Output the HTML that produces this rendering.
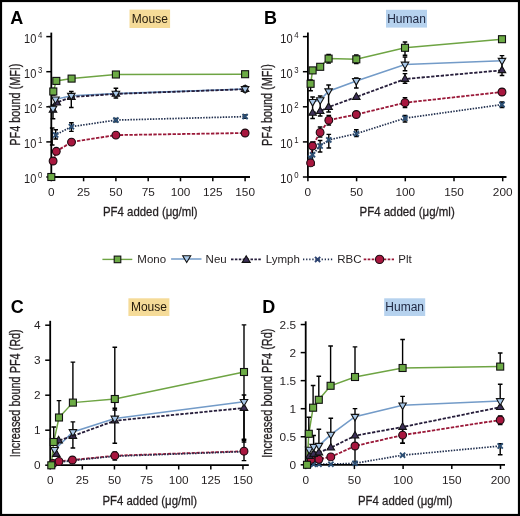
<!DOCTYPE html><html><head><meta charset="utf-8"><style>html,body{margin:0;padding:0;background:#fff;}svg{display:block;will-change:transform;}text{font-family:"Liberation Sans", sans-serif;}</style></head><body>
<svg width="520" height="516" viewBox="0 0 520 516">
<rect x="0" y="0" width="520" height="516" fill="#fff"/>
<text transform="translate(10.20,24.40)" font-size="18" text-anchor="start" font-weight="bold" fill="#000">A</text>
<rect x="129.50" y="9.60" width="40.60" height="18.40" fill="#f5db98"/>
<text transform="translate(149.80,23.00)" font-size="12" text-anchor="middle" font-weight="normal" fill="#23190b">Mouse</text>
<text transform="translate(36.30,182.90) scale(0.880,1)" font-size="12.6" text-anchor="end" font-weight="normal" fill="#231f20">10</text>
<text transform="translate(37.90,178.40) scale(0.950,1)" font-size="8.2" text-anchor="start" font-weight="normal" fill="#231f20">0</text>
<text transform="translate(36.30,147.80) scale(0.880,1)" font-size="12.6" text-anchor="end" font-weight="normal" fill="#231f20">10</text>
<text transform="translate(37.90,143.30) scale(0.950,1)" font-size="8.2" text-anchor="start" font-weight="normal" fill="#231f20">1</text>
<text transform="translate(36.30,112.70) scale(0.880,1)" font-size="12.6" text-anchor="end" font-weight="normal" fill="#231f20">10</text>
<text transform="translate(37.90,108.20) scale(0.950,1)" font-size="8.2" text-anchor="start" font-weight="normal" fill="#231f20">2</text>
<text transform="translate(36.30,77.60) scale(0.880,1)" font-size="12.6" text-anchor="end" font-weight="normal" fill="#231f20">10</text>
<text transform="translate(37.90,73.10) scale(0.950,1)" font-size="8.2" text-anchor="start" font-weight="normal" fill="#231f20">3</text>
<text transform="translate(36.30,42.50) scale(0.880,1)" font-size="12.6" text-anchor="end" font-weight="normal" fill="#231f20">10</text>
<text transform="translate(37.90,38.00) scale(0.950,1)" font-size="8.2" text-anchor="start" font-weight="normal" fill="#231f20">4</text>
<text transform="translate(51.30,195.80)" font-size="11.8" text-anchor="middle" font-weight="normal" fill="#231f20">0</text>
<text transform="translate(83.60,195.80)" font-size="11.8" text-anchor="middle" font-weight="normal" fill="#231f20">25</text>
<text transform="translate(115.90,195.80)" font-size="11.8" text-anchor="middle" font-weight="normal" fill="#231f20">50</text>
<text transform="translate(148.20,195.80)" font-size="11.8" text-anchor="middle" font-weight="normal" fill="#231f20">75</text>
<text transform="translate(180.50,195.80)" font-size="11.8" text-anchor="middle" font-weight="normal" fill="#231f20">100</text>
<text transform="translate(212.80,195.80)" font-size="11.8" text-anchor="middle" font-weight="normal" fill="#231f20">125</text>
<text transform="translate(245.10,195.80)" font-size="11.8" text-anchor="middle" font-weight="normal" fill="#231f20">150</text>
<text transform="translate(150.30,216.40)" font-size="13.6" text-anchor="middle" font-weight="normal" fill="#231f20" textLength="94.60" lengthAdjust="spacingAndGlyphs" stroke="#231f20" stroke-width="0.3">PF4 added (μg/ml)</text>
<text transform="translate(19.60,104.60) rotate(-90)" font-size="14.2" text-anchor="middle" font-weight="normal" fill="#231f20" textLength="82.10" lengthAdjust="spacingAndGlyphs" stroke="#231f20" stroke-width="0.3">PF4 bound (MFI)</text>
<path d="M53.30,91.50 L56.30,80.90 L71.60,78.60 L115.90,74.50 L245.10,74.20" fill="none" stroke="#6ea443" stroke-width="1.5" stroke-linecap="butt"/>
<path d="M53.00,108.60 L55.50,99.30 L71.30,95.70 L115.90,93.60 L245.10,89.00" fill="none" stroke="#739bc8" stroke-width="1.6" stroke-linecap="butt"/>
<path d="M53.00,109.80 L56.80,102.60 L71.40,97.00 L115.90,93.90 L245.10,89.20" fill="none" stroke="#261d3a" stroke-width="1.8" stroke-dasharray="3.3,1.5" stroke-linecap="butt"/>
<path d="M52.20,133.00 L55.70,134.90 L71.40,126.70 L115.90,120.10 L245.10,116.60" fill="none" stroke="#22304f" stroke-width="1.7" stroke-dasharray="1.5,1.3" stroke-linecap="butt"/>
<path d="M53.10,161.00 L56.30,151.30 L71.50,142.10 L115.90,135.10 L245.10,133.00" fill="none" stroke="#9a1838" stroke-width="1.8" stroke-dasharray="3.4,1.4" stroke-linecap="butt"/>
<path d="M51.30,32.60 V177.90" stroke="#000" stroke-width="1.8"/>
<path d="M50.40,177.00 H250.00" stroke="#000" stroke-width="1.8"/>
<path d="M46.30,177.00 H51.30" stroke="#000" stroke-width="1.5"/>
<path d="M46.30,141.90 H51.30" stroke="#000" stroke-width="1.5"/>
<path d="M46.30,106.80 H51.30" stroke="#000" stroke-width="1.5"/>
<path d="M46.30,71.70 H51.30" stroke="#000" stroke-width="1.5"/>
<path d="M46.30,36.60 H51.30" stroke="#000" stroke-width="1.5"/>
<path d="M51.30,177.00 V181.30" stroke="#000" stroke-width="1.5"/>
<path d="M83.60,177.00 V181.30" stroke="#000" stroke-width="1.5"/>
<path d="M115.90,177.00 V181.30" stroke="#000" stroke-width="1.5"/>
<path d="M148.20,177.00 V181.30" stroke="#000" stroke-width="1.5"/>
<path d="M180.50,177.00 V181.30" stroke="#000" stroke-width="1.5"/>
<path d="M212.80,177.00 V181.30" stroke="#000" stroke-width="1.5"/>
<path d="M245.10,177.00 V181.30" stroke="#000" stroke-width="1.5"/>
<path d="M53.00,105.00 V118.70 M50.70,105.00 h4.60 M50.70,118.70 h4.60" stroke="#000" stroke-width="1.4" fill="none"/>
<path d="M71.30,91.50 V107.50 M69.00,91.50 h4.60 M69.00,107.50 h4.60" stroke="#000" stroke-width="1.4" fill="none"/>
<path d="M115.90,88.20 V98.00 M113.60,88.20 h4.60 M113.60,98.00 h4.60" stroke="#000" stroke-width="1.4" fill="none"/>
<path d="M245.10,86.00 V92.00 M242.80,86.00 h4.60 M242.80,92.00 h4.60" stroke="#000" stroke-width="1.4" fill="none"/>
<path d="M55.70,129.70 V139.00 M53.40,129.70 h4.60 M53.40,139.00 h4.60" stroke="#000" stroke-width="1.4" fill="none"/>
<path d="M71.40,122.70 V131.40 M69.10,122.70 h4.60 M69.10,131.40 h4.60" stroke="#000" stroke-width="1.4" fill="none"/>
<path d="M115.90,118.50 V121.80 M113.60,118.50 h4.60 M113.60,121.80 h4.60" stroke="#000" stroke-width="1.4" fill="none"/>
<path d="M245.10,115.00 V118.30 M242.80,115.00 h4.60 M242.80,118.30 h4.60" stroke="#000" stroke-width="1.4" fill="none"/>
<path d="M53.30,88.50 V95.00 M51.00,88.50 h4.60 M51.00,95.00 h4.60" stroke="#000" stroke-width="1.4" fill="none"/>
<path d="M52.20,128.00 V145.00 M49.90,128.00 h4.60 M49.90,145.00 h4.60" stroke="#000" stroke-width="1.4" fill="none"/>
<path d="M53.80,133.00 L57.60,136.80 M53.80,136.80 L57.60,133.00" stroke="#2c4f74" stroke-width="1.9" stroke-linecap="square"/>
<path d="M69.50,124.80 L73.30,128.60 M69.50,128.60 L73.30,124.80" stroke="#2c4f74" stroke-width="1.9" stroke-linecap="square"/>
<path d="M114.00,118.20 L117.80,122.00 M114.00,122.00 L117.80,118.20" stroke="#2c4f74" stroke-width="1.9" stroke-linecap="square"/>
<path d="M243.20,114.70 L247.00,118.50 M243.20,118.50 L247.00,114.70" stroke="#2c4f74" stroke-width="1.9" stroke-linecap="square"/>
<circle cx="53.10" cy="161.00" r="3.90" fill="#a8173f" stroke="#1a0a10" stroke-width="1.1"/>
<circle cx="56.30" cy="151.30" r="3.90" fill="#a8173f" stroke="#1a0a10" stroke-width="1.1"/>
<circle cx="71.50" cy="142.10" r="3.90" fill="#a8173f" stroke="#1a0a10" stroke-width="1.1"/>
<circle cx="115.90" cy="135.10" r="3.90" fill="#a8173f" stroke="#1a0a10" stroke-width="1.1"/>
<circle cx="245.10" cy="133.00" r="3.90" fill="#a8173f" stroke="#1a0a10" stroke-width="1.1"/>
<path d="M49.25,112.14 L56.75,112.14 L53.00,105.64 Z" fill="#3e3058" stroke="#111" stroke-width="1.1" stroke-linejoin="miter"/>
<path d="M53.05,104.94 L60.55,104.94 L56.80,98.44 Z" fill="#3e3058" stroke="#111" stroke-width="1.1" stroke-linejoin="miter"/>
<path d="M67.65,99.34 L75.15,99.34 L71.40,92.84 Z" fill="#3e3058" stroke="#111" stroke-width="1.1" stroke-linejoin="miter"/>
<path d="M112.15,96.24 L119.65,96.24 L115.90,89.74 Z" fill="#3e3058" stroke="#111" stroke-width="1.1" stroke-linejoin="miter"/>
<path d="M241.35,91.54 L248.85,91.54 L245.10,85.04 Z" fill="#3e3058" stroke="#111" stroke-width="1.1" stroke-linejoin="miter"/>
<path d="M49.25,106.26 L56.75,106.26 L53.00,112.76 Z" fill="#a9c8e8" stroke="#111" stroke-width="1.1" stroke-linejoin="miter"/>
<path d="M51.75,96.96 L59.25,96.96 L55.50,103.46 Z" fill="#a9c8e8" stroke="#111" stroke-width="1.1" stroke-linejoin="miter"/>
<path d="M67.55,93.36 L75.05,93.36 L71.30,99.86 Z" fill="#a9c8e8" stroke="#111" stroke-width="1.1" stroke-linejoin="miter"/>
<path d="M112.15,91.26 L119.65,91.26 L115.90,97.76 Z" fill="#a9c8e8" stroke="#111" stroke-width="1.1" stroke-linejoin="miter"/>
<path d="M241.35,86.66 L248.85,86.66 L245.10,93.16 Z" fill="#a9c8e8" stroke="#111" stroke-width="1.1" stroke-linejoin="miter"/>
<rect x="47.80" y="173.50" width="7.00" height="7.00" fill="#6cab45" stroke="#111" stroke-width="1.1"/>
<rect x="49.80" y="88.00" width="7.00" height="7.00" fill="#6cab45" stroke="#111" stroke-width="1.1"/>
<rect x="52.80" y="77.40" width="7.00" height="7.00" fill="#6cab45" stroke="#111" stroke-width="1.1"/>
<rect x="68.10" y="75.10" width="7.00" height="7.00" fill="#6cab45" stroke="#111" stroke-width="1.1"/>
<rect x="112.40" y="71.00" width="7.00" height="7.00" fill="#6cab45" stroke="#111" stroke-width="1.1"/>
<rect x="241.60" y="70.70" width="7.00" height="7.00" fill="#6cab45" stroke="#111" stroke-width="1.1"/>
<text transform="translate(264.00,24.40)" font-size="18" text-anchor="start" font-weight="bold" fill="#000">B</text>
<rect x="386.00" y="9.80" width="41.00" height="17.80" fill="#b6d2ee"/>
<text transform="translate(406.50,22.90)" font-size="12" text-anchor="middle" font-weight="normal" fill="#1e2640">Human</text>
<text transform="translate(292.60,182.90) scale(0.880,1)" font-size="12.6" text-anchor="end" font-weight="normal" fill="#231f20">10</text>
<text transform="translate(294.30,178.40) scale(0.950,1)" font-size="8.2" text-anchor="start" font-weight="normal" fill="#231f20">0</text>
<text transform="translate(292.60,147.80) scale(0.880,1)" font-size="12.6" text-anchor="end" font-weight="normal" fill="#231f20">10</text>
<text transform="translate(294.30,143.30) scale(0.950,1)" font-size="8.2" text-anchor="start" font-weight="normal" fill="#231f20">1</text>
<text transform="translate(292.60,112.70) scale(0.880,1)" font-size="12.6" text-anchor="end" font-weight="normal" fill="#231f20">10</text>
<text transform="translate(294.30,108.20) scale(0.950,1)" font-size="8.2" text-anchor="start" font-weight="normal" fill="#231f20">2</text>
<text transform="translate(292.60,77.60) scale(0.880,1)" font-size="12.6" text-anchor="end" font-weight="normal" fill="#231f20">10</text>
<text transform="translate(294.30,73.10) scale(0.950,1)" font-size="8.2" text-anchor="start" font-weight="normal" fill="#231f20">3</text>
<text transform="translate(292.60,42.50) scale(0.880,1)" font-size="12.6" text-anchor="end" font-weight="normal" fill="#231f20">10</text>
<text transform="translate(294.30,38.00) scale(0.950,1)" font-size="8.2" text-anchor="start" font-weight="normal" fill="#231f20">4</text>
<text transform="translate(307.90,195.80)" font-size="11.8" text-anchor="middle" font-weight="normal" fill="#231f20">0</text>
<text transform="translate(356.60,195.80)" font-size="11.8" text-anchor="middle" font-weight="normal" fill="#231f20">50</text>
<text transform="translate(405.30,195.80)" font-size="11.8" text-anchor="middle" font-weight="normal" fill="#231f20">100</text>
<text transform="translate(454.00,195.80)" font-size="11.8" text-anchor="middle" font-weight="normal" fill="#231f20">150</text>
<text transform="translate(502.70,195.80)" font-size="11.8" text-anchor="middle" font-weight="normal" fill="#231f20">200</text>
<text transform="translate(407.10,216.40)" font-size="13.6" text-anchor="middle" font-weight="normal" fill="#231f20" textLength="95.20" lengthAdjust="spacingAndGlyphs" stroke="#231f20" stroke-width="0.3">PF4 added (μg/ml)</text>
<text transform="translate(271.60,105.00) rotate(-90)" font-size="14.2" text-anchor="middle" font-weight="normal" fill="#231f20" textLength="81.90" lengthAdjust="spacingAndGlyphs" stroke="#231f20" stroke-width="0.3">PF4 bound (MFI)</text>
<path d="M310.60,83.80 L312.60,70.40 L320.20,66.80 L328.60,58.60 L356.30,59.30 L405.00,47.80 L502.00,39.20" fill="none" stroke="#6ea443" stroke-width="1.5" stroke-linecap="butt"/>
<path d="M312.60,101.90 L320.20,100.10 L328.60,91.20 L356.30,80.90 L405.00,64.50 L502.00,60.70" fill="none" stroke="#739bc8" stroke-width="1.6" stroke-linecap="butt"/>
<path d="M312.60,112.90 L320.20,111.20 L328.60,107.10 L356.30,97.00 L405.00,79.00 L502.00,70.30" fill="none" stroke="#261d3a" stroke-width="1.8" stroke-dasharray="3.3,1.5" stroke-linecap="butt"/>
<path d="M310.60,158.00 L312.50,154.80 L320.10,146.00 L328.80,139.90 L356.30,133.70 L405.00,118.20 L502.00,104.60" fill="none" stroke="#22304f" stroke-width="1.7" stroke-dasharray="1.5,1.3" stroke-linecap="butt"/>
<path d="M310.60,162.90 L312.50,146.00 L320.10,132.40 L328.80,120.20 L356.30,114.50 L405.00,102.70 L502.00,92.00" fill="none" stroke="#9a1838" stroke-width="1.8" stroke-dasharray="3.4,1.4" stroke-linecap="butt"/>
<path d="M307.90,32.60 V177.90" stroke="#000" stroke-width="1.8"/>
<path d="M307.00,177.00 H506.50" stroke="#000" stroke-width="1.8"/>
<path d="M302.90,177.00 H307.90" stroke="#000" stroke-width="1.5"/>
<path d="M302.90,141.90 H307.90" stroke="#000" stroke-width="1.5"/>
<path d="M302.90,106.80 H307.90" stroke="#000" stroke-width="1.5"/>
<path d="M302.90,71.70 H307.90" stroke="#000" stroke-width="1.5"/>
<path d="M302.90,36.60 H307.90" stroke="#000" stroke-width="1.5"/>
<path d="M307.90,177.00 V181.30" stroke="#000" stroke-width="1.5"/>
<path d="M356.60,177.00 V181.30" stroke="#000" stroke-width="1.5"/>
<path d="M405.30,177.00 V181.30" stroke="#000" stroke-width="1.5"/>
<path d="M454.00,177.00 V181.30" stroke="#000" stroke-width="1.5"/>
<path d="M502.70,177.00 V181.30" stroke="#000" stroke-width="1.5"/>
<path d="M310.60,80.00 V90.80 M308.30,80.00 h4.60 M308.30,90.80 h4.60" stroke="#000" stroke-width="1.4" fill="none"/>
<path d="M328.60,54.50 V63.00 M326.30,54.50 h4.60 M326.30,63.00 h4.60" stroke="#000" stroke-width="1.4" fill="none"/>
<path d="M356.30,55.00 V63.50 M354.00,55.00 h4.60 M354.00,63.50 h4.60" stroke="#000" stroke-width="1.4" fill="none"/>
<path d="M405.00,42.00 V55.20 M402.70,42.00 h4.60 M402.70,55.20 h4.60" stroke="#000" stroke-width="1.4" fill="none"/>
<path d="M312.60,97.00 V118.50 M310.30,97.00 h4.60 M310.30,118.50 h4.60" stroke="#000" stroke-width="1.4" fill="none"/>
<path d="M320.20,96.00 V116.00 M317.90,96.00 h4.60 M317.90,116.00 h4.60" stroke="#000" stroke-width="1.4" fill="none"/>
<path d="M328.60,85.00 V112.00 M326.30,85.00 h4.60 M326.30,112.00 h4.60" stroke="#000" stroke-width="1.4" fill="none"/>
<path d="M356.30,78.00 V88.00 M354.00,78.00 h4.60 M354.00,88.00 h4.60" stroke="#000" stroke-width="1.4" fill="none"/>
<path d="M405.00,57.00 V70.70 M402.70,57.00 h4.60 M402.70,70.70 h4.60" stroke="#000" stroke-width="1.4" fill="none"/>
<path d="M502.00,55.60 V75.50 M499.70,55.60 h4.60 M499.70,75.50 h4.60" stroke="#000" stroke-width="1.4" fill="none"/>
<path d="M405.00,73.60 V83.30 M402.70,73.60 h4.60 M402.70,83.30 h4.60" stroke="#000" stroke-width="1.4" fill="none"/>
<path d="M320.10,127.00 V137.00 M317.80,127.00 h4.60 M317.80,137.00 h4.60" stroke="#000" stroke-width="1.4" fill="none"/>
<path d="M328.80,115.40 V125.00 M326.50,115.40 h4.60 M326.50,125.00 h4.60" stroke="#000" stroke-width="1.4" fill="none"/>
<path d="M405.00,97.80 V107.50 M402.70,97.80 h4.60 M402.70,107.50 h4.60" stroke="#000" stroke-width="1.4" fill="none"/>
<path d="M502.00,89.00 V95.00 M499.70,89.00 h4.60 M499.70,95.00 h4.60" stroke="#000" stroke-width="1.4" fill="none"/>
<path d="M320.10,140.50 V152.00 M317.80,140.50 h4.60 M317.80,152.00 h4.60" stroke="#000" stroke-width="1.4" fill="none"/>
<path d="M328.80,134.40 V148.00 M326.50,134.40 h4.60 M326.50,148.00 h4.60" stroke="#000" stroke-width="1.4" fill="none"/>
<path d="M356.30,129.70 V136.50 M354.00,129.70 h4.60 M354.00,136.50 h4.60" stroke="#000" stroke-width="1.4" fill="none"/>
<path d="M405.00,115.50 V122.00 M402.70,115.50 h4.60 M402.70,122.00 h4.60" stroke="#000" stroke-width="1.4" fill="none"/>
<path d="M502.00,102.00 V107.50 M499.70,102.00 h4.60 M499.70,107.50 h4.60" stroke="#000" stroke-width="1.4" fill="none"/>
<path d="M312.50,142.00 V165.00 M310.20,142.00 h4.60 M310.20,165.00 h4.60" stroke="#000" stroke-width="1.4" fill="none"/>
<path d="M308.70,156.10 L312.50,159.90 M308.70,159.90 L312.50,156.10" stroke="#2c4f74" stroke-width="1.9" stroke-linecap="square"/>
<path d="M310.60,152.90 L314.40,156.70 M310.60,156.70 L314.40,152.90" stroke="#2c4f74" stroke-width="1.9" stroke-linecap="square"/>
<path d="M318.20,144.10 L322.00,147.90 M318.20,147.90 L322.00,144.10" stroke="#2c4f74" stroke-width="1.9" stroke-linecap="square"/>
<path d="M326.90,138.00 L330.70,141.80 M326.90,141.80 L330.70,138.00" stroke="#2c4f74" stroke-width="1.9" stroke-linecap="square"/>
<path d="M354.40,131.80 L358.20,135.60 M354.40,135.60 L358.20,131.80" stroke="#2c4f74" stroke-width="1.9" stroke-linecap="square"/>
<path d="M403.10,116.30 L406.90,120.10 M403.10,120.10 L406.90,116.30" stroke="#2c4f74" stroke-width="1.9" stroke-linecap="square"/>
<path d="M500.10,102.70 L503.90,106.50 M500.10,106.50 L503.90,102.70" stroke="#2c4f74" stroke-width="1.9" stroke-linecap="square"/>
<circle cx="310.60" cy="162.90" r="3.90" fill="#a8173f" stroke="#1a0a10" stroke-width="1.1"/>
<circle cx="312.50" cy="146.00" r="3.90" fill="#a8173f" stroke="#1a0a10" stroke-width="1.1"/>
<circle cx="320.10" cy="132.40" r="3.90" fill="#a8173f" stroke="#1a0a10" stroke-width="1.1"/>
<circle cx="328.80" cy="120.20" r="3.90" fill="#a8173f" stroke="#1a0a10" stroke-width="1.1"/>
<circle cx="356.30" cy="114.50" r="3.90" fill="#a8173f" stroke="#1a0a10" stroke-width="1.1"/>
<circle cx="405.00" cy="102.70" r="3.90" fill="#a8173f" stroke="#1a0a10" stroke-width="1.1"/>
<circle cx="502.00" cy="92.00" r="3.90" fill="#a8173f" stroke="#1a0a10" stroke-width="1.1"/>
<path d="M308.85,115.24 L316.35,115.24 L312.60,108.74 Z" fill="#3e3058" stroke="#111" stroke-width="1.1" stroke-linejoin="miter"/>
<path d="M316.45,113.54 L323.95,113.54 L320.20,107.04 Z" fill="#3e3058" stroke="#111" stroke-width="1.1" stroke-linejoin="miter"/>
<path d="M324.85,109.44 L332.35,109.44 L328.60,102.94 Z" fill="#3e3058" stroke="#111" stroke-width="1.1" stroke-linejoin="miter"/>
<path d="M352.55,99.34 L360.05,99.34 L356.30,92.84 Z" fill="#3e3058" stroke="#111" stroke-width="1.1" stroke-linejoin="miter"/>
<path d="M401.25,81.34 L408.75,81.34 L405.00,74.84 Z" fill="#3e3058" stroke="#111" stroke-width="1.1" stroke-linejoin="miter"/>
<path d="M498.25,72.64 L505.75,72.64 L502.00,66.14 Z" fill="#3e3058" stroke="#111" stroke-width="1.1" stroke-linejoin="miter"/>
<path d="M308.85,99.56 L316.35,99.56 L312.60,106.06 Z" fill="#a9c8e8" stroke="#111" stroke-width="1.1" stroke-linejoin="miter"/>
<path d="M316.45,97.76 L323.95,97.76 L320.20,104.26 Z" fill="#a9c8e8" stroke="#111" stroke-width="1.1" stroke-linejoin="miter"/>
<path d="M324.85,88.86 L332.35,88.86 L328.60,95.36 Z" fill="#a9c8e8" stroke="#111" stroke-width="1.1" stroke-linejoin="miter"/>
<path d="M352.55,78.56 L360.05,78.56 L356.30,85.06 Z" fill="#a9c8e8" stroke="#111" stroke-width="1.1" stroke-linejoin="miter"/>
<path d="M401.25,62.16 L408.75,62.16 L405.00,68.66 Z" fill="#a9c8e8" stroke="#111" stroke-width="1.1" stroke-linejoin="miter"/>
<path d="M498.25,58.36 L505.75,58.36 L502.00,64.86 Z" fill="#a9c8e8" stroke="#111" stroke-width="1.1" stroke-linejoin="miter"/>
<rect x="307.10" y="80.30" width="7.00" height="7.00" fill="#6cab45" stroke="#111" stroke-width="1.1"/>
<rect x="309.10" y="66.90" width="7.00" height="7.00" fill="#6cab45" stroke="#111" stroke-width="1.1"/>
<rect x="316.70" y="63.30" width="7.00" height="7.00" fill="#6cab45" stroke="#111" stroke-width="1.1"/>
<rect x="325.10" y="55.10" width="7.00" height="7.00" fill="#6cab45" stroke="#111" stroke-width="1.1"/>
<rect x="352.80" y="55.80" width="7.00" height="7.00" fill="#6cab45" stroke="#111" stroke-width="1.1"/>
<rect x="401.50" y="44.30" width="7.00" height="7.00" fill="#6cab45" stroke="#111" stroke-width="1.1"/>
<rect x="498.50" y="35.70" width="7.00" height="7.00" fill="#6cab45" stroke="#111" stroke-width="1.1"/>
<path d="M102.4,259.40 H132.3" stroke="#6ea443" stroke-width="1.4"/>
<rect x="114.20" y="256.10" width="6.60" height="6.60" fill="#6cab45" stroke="#111" stroke-width="1.1"/>
<text transform="translate(137.30,263.40)" font-size="11.5" text-anchor="start" font-weight="normal" fill="#231f20">Mono</text>
<path d="M171.1,259.00 H201.5" stroke="#739bc8" stroke-width="1.5"/>
<path d="M182.70,255.82 L190.70,255.82 L186.70,262.42 Z" fill="#a9c8e8" stroke="#111" stroke-width="1.1" stroke-linejoin="miter"/>
<text transform="translate(205.60,263.40)" font-size="11.5" text-anchor="start" font-weight="normal" fill="#231f20">Neu</text>
<path d="M231,259.40 H261" stroke="#261d3a" stroke-width="1.7" stroke-dasharray="2.5,1.4"/>
<path d="M242.20,262.38 L250.20,262.38 L246.20,255.78 Z" fill="#3e3058" stroke="#111" stroke-width="1.1" stroke-linejoin="miter"/>
<text transform="translate(265.80,263.40)" font-size="11.5" text-anchor="start" font-weight="normal" fill="#231f20">Lymph</text>
<path d="M303,259.40 H333" stroke="#22304f" stroke-width="1.6" stroke-dasharray="1.3,1.8"/>
<path d="M315.00,256.80 L320.20,262.00 M315.00,262.00 L320.20,256.80" stroke="#2c4270" stroke-width="1.9" stroke-linecap="butt"/>
<text transform="translate(337.30,263.40)" font-size="11.5" text-anchor="start" font-weight="normal" fill="#231f20">RBC</text>
<path d="M363.7,259.40 H394" stroke="#9a1838" stroke-width="1.7" stroke-dasharray="2.6,1.4"/>
<circle cx="379.60" cy="259.40" r="4.10" fill="#a8173f" stroke="#1a0a10" stroke-width="1.1"/>
<text transform="translate(398.30,263.40)" font-size="11.5" text-anchor="start" font-weight="normal" fill="#231f20">Plt</text>
<text transform="translate(10.80,312.60)" font-size="18" text-anchor="start" font-weight="bold" fill="#000">C</text>
<rect x="128.40" y="298.30" width="41.00" height="17.70" fill="#f5db98"/>
<text transform="translate(148.90,311.35)" font-size="12" text-anchor="middle" font-weight="normal" fill="#23190b">Mouse</text>
<text transform="translate(40.60,469.30)" font-size="11.8" text-anchor="end" font-weight="normal" fill="#231f20">0</text>
<text transform="translate(40.60,434.30)" font-size="11.8" text-anchor="end" font-weight="normal" fill="#231f20">1</text>
<text transform="translate(40.60,399.30)" font-size="11.8" text-anchor="end" font-weight="normal" fill="#231f20">2</text>
<text transform="translate(40.60,364.30)" font-size="11.8" text-anchor="end" font-weight="normal" fill="#231f20">3</text>
<text transform="translate(40.60,329.30)" font-size="11.8" text-anchor="end" font-weight="normal" fill="#231f20">4</text>
<text transform="translate(50.20,484.20)" font-size="11.8" text-anchor="middle" font-weight="normal" fill="#231f20">0</text>
<text transform="translate(82.33,484.20)" font-size="11.8" text-anchor="middle" font-weight="normal" fill="#231f20">25</text>
<text transform="translate(114.45,484.20)" font-size="11.8" text-anchor="middle" font-weight="normal" fill="#231f20">50</text>
<text transform="translate(146.57,484.20)" font-size="11.8" text-anchor="middle" font-weight="normal" fill="#231f20">75</text>
<text transform="translate(178.70,484.20)" font-size="11.8" text-anchor="middle" font-weight="normal" fill="#231f20">100</text>
<text transform="translate(210.82,484.20)" font-size="11.8" text-anchor="middle" font-weight="normal" fill="#231f20">125</text>
<text transform="translate(242.95,484.20)" font-size="11.8" text-anchor="middle" font-weight="normal" fill="#231f20">150</text>
<text transform="translate(149.70,504.50)" font-size="13.6" text-anchor="middle" font-weight="normal" fill="#231f20" textLength="94.60" lengthAdjust="spacingAndGlyphs" stroke="#231f20" stroke-width="0.3">PF4 added (μg/ml)</text>
<text transform="translate(19.70,393.30) rotate(-90)" font-size="14.2" text-anchor="middle" font-weight="normal" fill="#231f20" textLength="128.00" lengthAdjust="spacingAndGlyphs" stroke="#231f20" stroke-width="0.3">Increased bound PF4 (Rd)</text>
<path d="M51.30,465.30 L53.70,442.00 L59.00,417.50 L72.90,402.60 L114.80,399.00 L244.00,372.00" fill="none" stroke="#6ea443" stroke-width="1.5" stroke-linecap="butt"/>
<path d="M54.60,449.80 L72.90,432.00 L114.80,418.50 L244.00,401.80" fill="none" stroke="#739bc8" stroke-width="1.6" stroke-linecap="butt"/>
<path d="M56.30,454.00 L58.60,440.50 L72.90,436.00 L114.80,420.70 L244.00,408.00" fill="none" stroke="#261d3a" stroke-width="1.8" stroke-dasharray="3.3,1.5" stroke-linecap="butt"/>
<path d="M53.00,463.50 L59.00,461.40 L72.40,460.00 L114.80,455.70 L244.00,451.20" fill="none" stroke="#9a1838" stroke-width="1.8" stroke-dasharray="3.4,1.4" stroke-linecap="butt"/>
<path d="M53.00,464.50 L59.00,462.30 L72.40,460.50 L114.80,456.20 L244.00,451.60" fill="none" stroke="#22304f" stroke-width="1.7" stroke-dasharray="1.5,1.3" stroke-linecap="butt"/>
<path d="M50.20,320.80 V466.10" stroke="#000" stroke-width="1.8"/>
<path d="M49.30,465.20 H248.80" stroke="#000" stroke-width="1.8"/>
<path d="M45.20,465.20 H50.20" stroke="#000" stroke-width="1.5"/>
<path d="M45.20,430.20 H50.20" stroke="#000" stroke-width="1.5"/>
<path d="M45.20,395.20 H50.20" stroke="#000" stroke-width="1.5"/>
<path d="M45.20,360.20 H50.20" stroke="#000" stroke-width="1.5"/>
<path d="M45.20,325.20 H50.20" stroke="#000" stroke-width="1.5"/>
<path d="M50.20,465.20 V469.50" stroke="#000" stroke-width="1.5"/>
<path d="M82.33,465.20 V469.50" stroke="#000" stroke-width="1.5"/>
<path d="M114.45,465.20 V469.50" stroke="#000" stroke-width="1.5"/>
<path d="M146.57,465.20 V469.50" stroke="#000" stroke-width="1.5"/>
<path d="M178.70,465.20 V469.50" stroke="#000" stroke-width="1.5"/>
<path d="M210.82,465.20 V469.50" stroke="#000" stroke-width="1.5"/>
<path d="M242.95,465.20 V469.50" stroke="#000" stroke-width="1.5"/>
<path d="M53.70,427.00 V442.00 M51.40,427.00 h4.60 M51.40,442.00 h4.60" stroke="#000" stroke-width="1.4" fill="none"/>
<path d="M59.00,400.60 V417.50 M56.70,400.60 h4.60 M56.70,417.50 h4.60" stroke="#000" stroke-width="1.4" fill="none"/>
<path d="M72.90,362.10 V402.60 M70.60,362.10 h4.60 M70.60,402.60 h4.60" stroke="#000" stroke-width="1.4" fill="none"/>
<path d="M114.80,347.20 V443.30 M112.50,347.20 h4.60 M112.50,443.30 h4.60" stroke="#000" stroke-width="1.4" fill="none"/>
<path d="M244.00,324.90 V439.30 M241.70,324.90 h4.60 M241.70,439.30 h4.60" stroke="#000" stroke-width="1.4" fill="none"/>
<path d="M72.90,421.90 V448.00 M70.60,421.90 h4.60 M70.60,448.00 h4.60" stroke="#000" stroke-width="1.4" fill="none"/>
<path d="M114.80,408.30 V410.00 M112.50,408.30 h4.60 M112.50,410.00 h4.60" stroke="#000" stroke-width="1.4" fill="none"/>
<path d="M244.00,395.00 V442.00 M241.70,395.00 h4.60 M241.70,442.00 h4.60" stroke="#000" stroke-width="1.4" fill="none"/>
<path d="M244.00,440.20 V460.60 M241.70,440.20 h4.60 M241.70,460.60 h4.60" stroke="#000" stroke-width="1.4" fill="none"/>
<path d="M114.80,452.00 V460.00 M112.50,452.00 h4.60 M112.50,460.00 h4.60" stroke="#000" stroke-width="1.4" fill="none"/>
<path d="M51.10,462.60 L54.90,466.40 M51.10,466.40 L54.90,462.60" stroke="#2c4f74" stroke-width="1.9" stroke-linecap="square"/>
<path d="M57.10,460.40 L60.90,464.20 M57.10,464.20 L60.90,460.40" stroke="#2c4f74" stroke-width="1.9" stroke-linecap="square"/>
<path d="M70.50,458.60 L74.30,462.40 M70.50,462.40 L74.30,458.60" stroke="#2c4f74" stroke-width="1.9" stroke-linecap="square"/>
<path d="M112.90,454.30 L116.70,458.10 M112.90,458.10 L116.70,454.30" stroke="#2c4f74" stroke-width="1.9" stroke-linecap="square"/>
<path d="M242.10,449.70 L245.90,453.50 M242.10,453.50 L245.90,449.70" stroke="#2c4f74" stroke-width="1.9" stroke-linecap="square"/>
<circle cx="53.00" cy="463.50" r="3.90" fill="#a8173f" stroke="#1a0a10" stroke-width="1.1"/>
<circle cx="59.00" cy="461.40" r="3.90" fill="#a8173f" stroke="#1a0a10" stroke-width="1.1"/>
<circle cx="72.40" cy="460.00" r="3.90" fill="#a8173f" stroke="#1a0a10" stroke-width="1.1"/>
<circle cx="114.80" cy="455.70" r="3.90" fill="#a8173f" stroke="#1a0a10" stroke-width="1.1"/>
<circle cx="244.00" cy="451.20" r="3.90" fill="#a8173f" stroke="#1a0a10" stroke-width="1.1"/>
<path d="M52.55,456.34 L60.05,456.34 L56.30,449.84 Z" fill="#3e3058" stroke="#111" stroke-width="1.1" stroke-linejoin="miter"/>
<path d="M54.85,442.84 L62.35,442.84 L58.60,436.34 Z" fill="#3e3058" stroke="#111" stroke-width="1.1" stroke-linejoin="miter"/>
<path d="M69.15,438.34 L76.65,438.34 L72.90,431.84 Z" fill="#3e3058" stroke="#111" stroke-width="1.1" stroke-linejoin="miter"/>
<path d="M111.05,423.04 L118.55,423.04 L114.80,416.54 Z" fill="#3e3058" stroke="#111" stroke-width="1.1" stroke-linejoin="miter"/>
<path d="M240.25,410.34 L247.75,410.34 L244.00,403.84 Z" fill="#3e3058" stroke="#111" stroke-width="1.1" stroke-linejoin="miter"/>
<path d="M50.85,447.46 L58.35,447.46 L54.60,453.96 Z" fill="#a9c8e8" stroke="#111" stroke-width="1.1" stroke-linejoin="miter"/>
<path d="M69.15,429.66 L76.65,429.66 L72.90,436.16 Z" fill="#a9c8e8" stroke="#111" stroke-width="1.1" stroke-linejoin="miter"/>
<path d="M111.05,416.16 L118.55,416.16 L114.80,422.66 Z" fill="#a9c8e8" stroke="#111" stroke-width="1.1" stroke-linejoin="miter"/>
<path d="M240.25,399.46 L247.75,399.46 L244.00,405.96 Z" fill="#a9c8e8" stroke="#111" stroke-width="1.1" stroke-linejoin="miter"/>
<rect x="47.80" y="461.80" width="7.00" height="7.00" fill="#6cab45" stroke="#111" stroke-width="1.1"/>
<rect x="50.20" y="438.50" width="7.00" height="7.00" fill="#6cab45" stroke="#111" stroke-width="1.1"/>
<rect x="55.50" y="414.00" width="7.00" height="7.00" fill="#6cab45" stroke="#111" stroke-width="1.1"/>
<rect x="69.40" y="399.10" width="7.00" height="7.00" fill="#6cab45" stroke="#111" stroke-width="1.1"/>
<rect x="111.30" y="395.50" width="7.00" height="7.00" fill="#6cab45" stroke="#111" stroke-width="1.1"/>
<rect x="240.50" y="368.50" width="7.00" height="7.00" fill="#6cab45" stroke="#111" stroke-width="1.1"/>
<text transform="translate(262.30,312.60)" font-size="18" text-anchor="start" font-weight="bold" fill="#000">D</text>
<rect x="384.20" y="298.30" width="41.00" height="17.70" fill="#b6d2ee"/>
<text transform="translate(404.70,311.35)" font-size="12" text-anchor="middle" font-weight="normal" fill="#1e2640">Human</text>
<text transform="translate(296.00,468.90)" font-size="11.8" text-anchor="end" font-weight="normal" fill="#231f20">0</text>
<text transform="translate(296.00,440.85)" font-size="11.8" text-anchor="end" font-weight="normal" fill="#231f20">0.5</text>
<text transform="translate(296.00,412.80)" font-size="11.8" text-anchor="end" font-weight="normal" fill="#231f20">1</text>
<text transform="translate(296.00,384.75)" font-size="11.8" text-anchor="end" font-weight="normal" fill="#231f20">1.5</text>
<text transform="translate(296.00,356.70)" font-size="11.8" text-anchor="end" font-weight="normal" fill="#231f20">2</text>
<text transform="translate(296.00,328.65)" font-size="11.8" text-anchor="end" font-weight="normal" fill="#231f20">2.5</text>
<text transform="translate(305.70,484.20)" font-size="11.8" text-anchor="middle" font-weight="normal" fill="#231f20">0</text>
<text transform="translate(354.40,484.20)" font-size="11.8" text-anchor="middle" font-weight="normal" fill="#231f20">50</text>
<text transform="translate(403.10,484.20)" font-size="11.8" text-anchor="middle" font-weight="normal" fill="#231f20">100</text>
<text transform="translate(451.80,484.20)" font-size="11.8" text-anchor="middle" font-weight="normal" fill="#231f20">150</text>
<text transform="translate(500.50,484.20)" font-size="11.8" text-anchor="middle" font-weight="normal" fill="#231f20">200</text>
<text transform="translate(405.30,504.50)" font-size="13.6" text-anchor="middle" font-weight="normal" fill="#231f20" textLength="94.60" lengthAdjust="spacingAndGlyphs" stroke="#231f20" stroke-width="0.3">PF4 added (μg/ml)</text>
<text transform="translate(271.80,393.10) rotate(-90)" font-size="14.2" text-anchor="middle" font-weight="normal" fill="#231f20" textLength="129.20" lengthAdjust="spacingAndGlyphs" stroke="#231f20" stroke-width="0.3">Increased bound PF4 (Rd)</text>
<path d="M307.00,464.80 L308.80,433.80 L313.10,407.70 L318.80,399.80 L330.60,385.80 L355.00,377.00 L402.60,368.00 L500.20,366.60" fill="none" stroke="#6ea443" stroke-width="1.5" stroke-linecap="butt"/>
<path d="M309.20,449.60 L313.60,446.70 L318.90,445.70 L330.80,434.60 L355.00,416.70 L402.60,405.30 L500.20,401.00" fill="none" stroke="#739bc8" stroke-width="1.6" stroke-linecap="butt"/>
<path d="M309.50,456.00 L313.60,454.00 L318.90,452.50 L330.80,447.70 L355.00,435.70 L402.60,427.00 L500.20,407.20" fill="none" stroke="#261d3a" stroke-width="1.8" stroke-dasharray="3.3,1.5" stroke-linecap="butt"/>
<path d="M309.00,464.50 L313.60,464.20 L319.00,464.20 L330.90,464.20 L355.00,463.30 L402.60,455.20 L500.20,446.00" fill="none" stroke="#22304f" stroke-width="1.7" stroke-dasharray="1.5,1.3" stroke-linecap="butt"/>
<path d="M311.20,459.30 L318.90,459.30 L330.80,456.90 L355.00,446.00 L402.60,435.10 L500.20,420.00" fill="none" stroke="#9a1838" stroke-width="1.8" stroke-dasharray="3.4,1.4" stroke-linecap="butt"/>
<path d="M305.70,321.30 V465.70" stroke="#000" stroke-width="1.8"/>
<path d="M304.80,464.80 H505.00" stroke="#000" stroke-width="1.8"/>
<path d="M300.70,464.80 H305.70" stroke="#000" stroke-width="1.5"/>
<path d="M300.70,436.75 H305.70" stroke="#000" stroke-width="1.5"/>
<path d="M300.70,408.70 H305.70" stroke="#000" stroke-width="1.5"/>
<path d="M300.70,380.65 H305.70" stroke="#000" stroke-width="1.5"/>
<path d="M300.70,352.60 H305.70" stroke="#000" stroke-width="1.5"/>
<path d="M300.70,324.55 H305.70" stroke="#000" stroke-width="1.5"/>
<path d="M305.70,464.80 V469.10" stroke="#000" stroke-width="1.5"/>
<path d="M354.40,464.80 V469.10" stroke="#000" stroke-width="1.5"/>
<path d="M403.10,464.80 V469.10" stroke="#000" stroke-width="1.5"/>
<path d="M451.80,464.80 V469.10" stroke="#000" stroke-width="1.5"/>
<path d="M500.50,464.80 V469.10" stroke="#000" stroke-width="1.5"/>
<path d="M308.80,417.20 V433.80 M306.50,417.20 h4.60 M306.50,433.80 h4.60" stroke="#000" stroke-width="1.4" fill="none"/>
<path d="M313.10,385.50 V407.70 M310.80,385.50 h4.60 M310.80,407.70 h4.60" stroke="#000" stroke-width="1.4" fill="none"/>
<path d="M318.80,376.20 V399.80 M316.50,376.20 h4.60 M316.50,399.80 h4.60" stroke="#000" stroke-width="1.4" fill="none"/>
<path d="M330.60,346.00 V385.80 M328.30,346.00 h4.60 M328.30,385.80 h4.60" stroke="#000" stroke-width="1.4" fill="none"/>
<path d="M355.00,346.90 V377.00 M352.70,346.90 h4.60 M352.70,377.00 h4.60" stroke="#000" stroke-width="1.4" fill="none"/>
<path d="M402.60,339.50 V368.00 M400.30,339.50 h4.60 M400.30,368.00 h4.60" stroke="#000" stroke-width="1.4" fill="none"/>
<path d="M500.20,353.00 V366.60 M497.90,353.00 h4.60 M497.90,366.60 h4.60" stroke="#000" stroke-width="1.4" fill="none"/>
<path d="M313.60,435.50 V452.00 M311.30,435.50 h4.60 M311.30,452.00 h4.60" stroke="#000" stroke-width="1.4" fill="none"/>
<path d="M318.90,429.20 V452.00 M316.60,429.20 h4.60 M316.60,452.00 h4.60" stroke="#000" stroke-width="1.4" fill="none"/>
<path d="M330.80,418.20 V448.00 M328.50,418.20 h4.60 M328.50,448.00 h4.60" stroke="#000" stroke-width="1.4" fill="none"/>
<path d="M355.00,408.60 V462.00 M352.70,408.60 h4.60 M352.70,462.00 h4.60" stroke="#000" stroke-width="1.4" fill="none"/>
<path d="M402.60,396.40 V443.30 M400.30,396.40 h4.60 M400.30,443.30 h4.60" stroke="#000" stroke-width="1.4" fill="none"/>
<path d="M500.20,384.20 V401.00 M497.90,384.20 h4.60 M497.90,401.00 h4.60" stroke="#000" stroke-width="1.4" fill="none"/>
<path d="M402.60,429.00 V443.30 M400.30,429.00 h4.60 M400.30,443.30 h4.60" stroke="#000" stroke-width="1.4" fill="none"/>
<path d="M500.20,416.00 V424.50 M497.90,416.00 h4.60 M497.90,424.50 h4.60" stroke="#000" stroke-width="1.4" fill="none"/>
<path d="M500.20,443.80 V454.70 M497.90,443.80 h4.60 M497.90,454.70 h4.60" stroke="#000" stroke-width="1.4" fill="none"/>
<path d="M307.10,462.60 L310.90,466.40 M307.10,466.40 L310.90,462.60" stroke="#2c4f74" stroke-width="1.9" stroke-linecap="square"/>
<path d="M311.70,462.30 L315.50,466.10 M311.70,466.10 L315.50,462.30" stroke="#2c4f74" stroke-width="1.9" stroke-linecap="square"/>
<path d="M317.10,462.30 L320.90,466.10 M317.10,466.10 L320.90,462.30" stroke="#2c4f74" stroke-width="1.9" stroke-linecap="square"/>
<path d="M329.00,462.30 L332.80,466.10 M329.00,466.10 L332.80,462.30" stroke="#2c4f74" stroke-width="1.9" stroke-linecap="square"/>
<path d="M353.10,461.40 L356.90,465.20 M353.10,465.20 L356.90,461.40" stroke="#2c4f74" stroke-width="1.9" stroke-linecap="square"/>
<path d="M400.70,453.30 L404.50,457.10 M400.70,457.10 L404.50,453.30" stroke="#2c4f74" stroke-width="1.9" stroke-linecap="square"/>
<path d="M498.30,444.10 L502.10,447.90 M498.30,447.90 L502.10,444.10" stroke="#2c4f74" stroke-width="1.9" stroke-linecap="square"/>
<circle cx="311.20" cy="459.30" r="3.90" fill="#a8173f" stroke="#1a0a10" stroke-width="1.1"/>
<circle cx="318.90" cy="459.30" r="3.90" fill="#a8173f" stroke="#1a0a10" stroke-width="1.1"/>
<circle cx="330.80" cy="456.90" r="3.90" fill="#a8173f" stroke="#1a0a10" stroke-width="1.1"/>
<circle cx="355.00" cy="446.00" r="3.90" fill="#a8173f" stroke="#1a0a10" stroke-width="1.1"/>
<circle cx="402.60" cy="435.10" r="3.90" fill="#a8173f" stroke="#1a0a10" stroke-width="1.1"/>
<circle cx="500.20" cy="420.00" r="3.90" fill="#a8173f" stroke="#1a0a10" stroke-width="1.1"/>
<path d="M305.75,458.34 L313.25,458.34 L309.50,451.84 Z" fill="#3e3058" stroke="#111" stroke-width="1.1" stroke-linejoin="miter"/>
<path d="M309.85,456.34 L317.35,456.34 L313.60,449.84 Z" fill="#3e3058" stroke="#111" stroke-width="1.1" stroke-linejoin="miter"/>
<path d="M315.15,454.84 L322.65,454.84 L318.90,448.34 Z" fill="#3e3058" stroke="#111" stroke-width="1.1" stroke-linejoin="miter"/>
<path d="M327.05,450.04 L334.55,450.04 L330.80,443.54 Z" fill="#3e3058" stroke="#111" stroke-width="1.1" stroke-linejoin="miter"/>
<path d="M351.25,438.04 L358.75,438.04 L355.00,431.54 Z" fill="#3e3058" stroke="#111" stroke-width="1.1" stroke-linejoin="miter"/>
<path d="M398.85,429.34 L406.35,429.34 L402.60,422.84 Z" fill="#3e3058" stroke="#111" stroke-width="1.1" stroke-linejoin="miter"/>
<path d="M496.45,409.54 L503.95,409.54 L500.20,403.04 Z" fill="#3e3058" stroke="#111" stroke-width="1.1" stroke-linejoin="miter"/>
<path d="M305.45,447.26 L312.95,447.26 L309.20,453.76 Z" fill="#a9c8e8" stroke="#111" stroke-width="1.1" stroke-linejoin="miter"/>
<path d="M309.85,444.36 L317.35,444.36 L313.60,450.86 Z" fill="#a9c8e8" stroke="#111" stroke-width="1.1" stroke-linejoin="miter"/>
<path d="M315.15,443.36 L322.65,443.36 L318.90,449.86 Z" fill="#a9c8e8" stroke="#111" stroke-width="1.1" stroke-linejoin="miter"/>
<path d="M327.05,432.26 L334.55,432.26 L330.80,438.76 Z" fill="#a9c8e8" stroke="#111" stroke-width="1.1" stroke-linejoin="miter"/>
<path d="M351.25,414.36 L358.75,414.36 L355.00,420.86 Z" fill="#a9c8e8" stroke="#111" stroke-width="1.1" stroke-linejoin="miter"/>
<path d="M398.85,402.96 L406.35,402.96 L402.60,409.46 Z" fill="#a9c8e8" stroke="#111" stroke-width="1.1" stroke-linejoin="miter"/>
<path d="M496.45,398.66 L503.95,398.66 L500.20,405.16 Z" fill="#a9c8e8" stroke="#111" stroke-width="1.1" stroke-linejoin="miter"/>
<rect x="303.50" y="461.30" width="7.00" height="7.00" fill="#6cab45" stroke="#111" stroke-width="1.1"/>
<rect x="305.30" y="430.30" width="7.00" height="7.00" fill="#6cab45" stroke="#111" stroke-width="1.1"/>
<rect x="309.60" y="404.20" width="7.00" height="7.00" fill="#6cab45" stroke="#111" stroke-width="1.1"/>
<rect x="315.30" y="396.30" width="7.00" height="7.00" fill="#6cab45" stroke="#111" stroke-width="1.1"/>
<rect x="327.10" y="382.30" width="7.00" height="7.00" fill="#6cab45" stroke="#111" stroke-width="1.1"/>
<rect x="351.50" y="373.50" width="7.00" height="7.00" fill="#6cab45" stroke="#111" stroke-width="1.1"/>
<rect x="399.10" y="364.50" width="7.00" height="7.00" fill="#6cab45" stroke="#111" stroke-width="1.1"/>
<rect x="496.70" y="363.10" width="7.00" height="7.00" fill="#6cab45" stroke="#111" stroke-width="1.1"/>
<rect x="1" y="1" width="518" height="514" fill="none" stroke="#000" stroke-width="2.2"/>
</svg></body></html>
